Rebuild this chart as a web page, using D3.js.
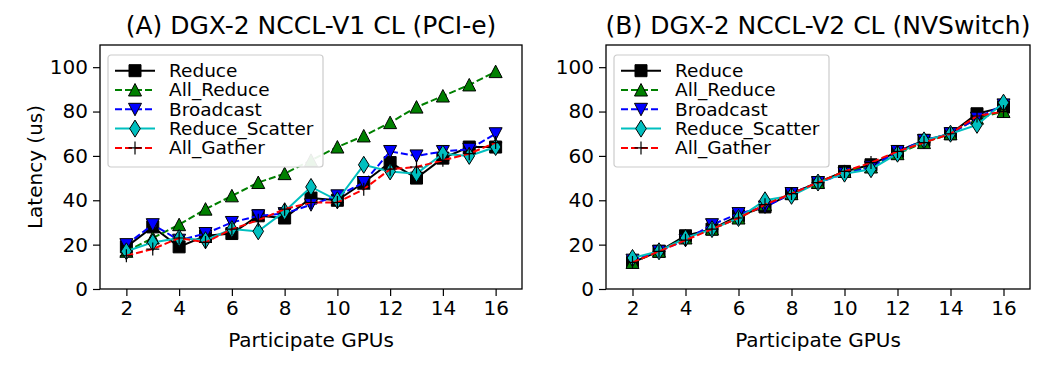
<!DOCTYPE html>
<html>
<head>
<meta charset="utf-8">
<script src="https://cdn.jsdelivr.net/npm/d3@7"></script>
<style>
  body { margin: 0; background: #fff; }
  text { font-family: "DejaVu Sans", sans-serif; fill: #000; }
</style>
</head>
<body>
<div id="chart"></div>
<script>
// data
var gpus = [2, 3, 4, 5, 6, 7, 8, 9, 10, 11, 12, 13, 14, 15, 16];
var xTicks = [2, 4, 6, 8, 10, 12, 14, 16];
var yTicks = [0, 20, 40, 60, 80, 100];
var seriesNames = ["Reduce", "All_Reduce", "Broadcast", "Reduce_Scatter", "All_Gather"];

// (A) NCCL-V1, PCI-e
var v1Reduce        = [19, 28, 19, 24, 25, 33, 32, 41, 40, 48, 57, 50, 59, 64, 64];
var v1AllReduce     = [17, 23, 29, 36, 42, 48, 52, 58, 64, 69, 75, 82, 87, 92, 98];
var v1Broadcast     = [20, 29, 22, 25, 30, 33, 34, 38, 42, 48, 62, 60, 62, 63, 70];
var v1ReduceScatter = [17, 21, 23, 22, 27, 26, 35, 46, 40, 56, 53, 52, 61, 60, 64];
var v1AllGather     = [15, 18, 23, 21, 27, 31, 36, 39, 39, 45, 54, 55, 58, 61, 66];

// (B) NCCL-V2, NVSwitch
var v2Reduce        = [12, 17, 24, 27, 33, 37, 43, 48, 53, 56, 62, 67, 70, 79, 82];
var v2AllReduce     = [12, 17, 23, 27, 32, 38, 43, 48, 53, 55, 61, 66, 70, 77, 80];
var v2Broadcast     = [13, 17, 22, 29, 34, 37, 43, 48, 52, 55, 62, 67, 70, 77, 83];
var v2ReduceScatter = [14, 17, 23, 27, 32, 40, 42, 48, 52, 54, 61, 67, 70, 74, 84];
var v2AllGather     = [12, 17, 22, 27, 32, 38, 43, 48, 53, 57, 62, 66, 70, 78, 80];

// line style per series (matplotlib-ish)
var styles = [
    { color: "#000000", dash: null,  marker: "square" },
    { color: "#008000", dash: "7,3", marker: "tri_up" },
    { color: "#0000ff", dash: "7,3", marker: "tri_down" },
    { color: "#00bfbf", dash: null,  marker: "diamond" },
    { color: "#ff0000", dash: "7,3", marker: "plus" }
];

var markerPaths = {
    square:   "M-6,-6H6V6H-6Z",
    tri_up:   "M0,-6.5L6.5,6L-6.5,6Z",
    tri_down: "M0,6.5L6.5,-6L-6.5,-6Z",
    diamond:  "M0,-8.5L5.3,0L0,8.5L-5.3,0Z",
    plus:     "M-6.5,0H6.5M0,-6.5V6.5"
};

var W = 1053, H = 369;
var svg = d3.select("#chart").append("svg")
    .attr("width", W)
    .attr("height", H);

function drawMarker(g, style, cx, cy) {
    var p = g.append("path")
        .attr("d", markerPaths[style.marker])
        .attr("transform", "translate(" + cx + "," + cy + ")");
    if (style.marker == "plus") {
        p.attr("fill", "none").attr("stroke", "#000").attr("stroke-width", 1.2);
    } else {
        p.attr("fill", style.color).attr("stroke", "#000").attr("stroke-width", 1);
    }
}

function panel(left, right, title, data, showYLabel) {
    var top = 45, bottom = 289;

    var x = d3.scaleLinear().domain([1, 17]).range([left, right]);
    var y = d3.scaleLinear().domain([0, 110]).range([bottom, top]);

    var g = svg.append("g");

    // title
    g.append("text")
        .attr("x", (left + right) / 2)
        .attr("y", 34)
        .attr("text-anchor", "middle")
        .style("font-size", "25px")
        .text(title);

    // axes
    var xAxis = g.append("g")
        .attr("transform", "translate(0," + bottom + ")")
        .call(d3.axisBottom(x).tickValues(xTicks).tickSize(7).tickPadding(5));
    var yAxis = g.append("g")
        .attr("transform", "translate(" + left + ",0)")
        .call(d3.axisLeft(y).tickValues(yTicks).tickSize(7).tickPadding(5));
    [xAxis, yAxis].forEach(function (a) {
        a.select(".domain").remove();
        a.selectAll("line").attr("stroke", "#000").attr("stroke-width", 1.2);
        a.selectAll("text").style("font-size", "20px").attr("fill", "#000")
            .style("font-family", "DejaVu Sans, sans-serif");
    });

    g.append("text")
        .attr("x", (left + right) / 2)
        .attr("y", 347)
        .attr("text-anchor", "middle")
        .style("font-size", "20px")
        .text("Participate GPUs");

    if (showYLabel) {
        g.append("text")
            .attr("transform", "translate(42," + (top + bottom) / 2 + ") rotate(-90)")
            .attr("text-anchor", "middle")
            .style("font-size", "20px")
            .text("Latency (us)");
    }

    // series
    var line = d3.line()
        .x(function (d, i) { return x(gpus[i]); })
        .y(function (d) { return y(d); });

    data.forEach(function (vals, k) {
        var st = styles[k];
        g.append("path")
            .datum(vals)
            .attr("d", line)
            .attr("fill", "none")
            .attr("stroke", st.color)
            .attr("stroke-width", 2)
            .attr("stroke-dasharray", st.dash);
        var mg = g.append("g");
        vals.forEach(function (v, i) {
            drawMarker(mg, st, x(gpus[i]), y(v));
        });
    });

    // frame
    g.append("rect")
        .attr("x", left).attr("y", top)
        .attr("width", right - left).attr("height", bottom - top)
        .attr("fill", "none")
        .attr("stroke", "#000")
        .attr("stroke-width", 1.3);

    // legend
    var lg = g.append("g").attr("transform", "translate(" + (left + 8) + ",55)");
    lg.append("rect")
        .attr("width", 215).attr("height", 112)
        .attr("rx", 3)
        .attr("fill", "#fff").attr("fill-opacity", 0.92)
        .attr("stroke", "#cccccc").attr("stroke-width", 1.2);
    seriesNames.forEach(function (name, k) {
        var st = styles[k];
        var yy = 15.7 + k * 19.3;
        lg.append("line")
            .attr("x1", 7).attr("x2", 47)
            .attr("y1", yy).attr("y2", yy)
            .attr("stroke", st.color)
            .attr("stroke-width", 2)
            .attr("stroke-dasharray", st.dash);
        drawMarker(lg, st, 27, yy);
        lg.append("text")
            .attr("x", 61).attr("y", yy)
            .attr("dy", "0.35em")
            .style("font-size", "18.5px")
            .text(name);
    });
}

panel(100, 522, "(A) DGX-2 NCCL-V1 CL (PCI-e)",
    [v1Reduce, v1AllReduce, v1Broadcast, v1ReduceScatter, v1AllGather], true);
panel(606, 1030, "(B) DGX-2 NCCL-V2 CL (NVSwitch)",
    [v2Reduce, v2AllReduce, v2Broadcast, v2ReduceScatter, v2AllGather], false);
</script>
</body>
</html>
